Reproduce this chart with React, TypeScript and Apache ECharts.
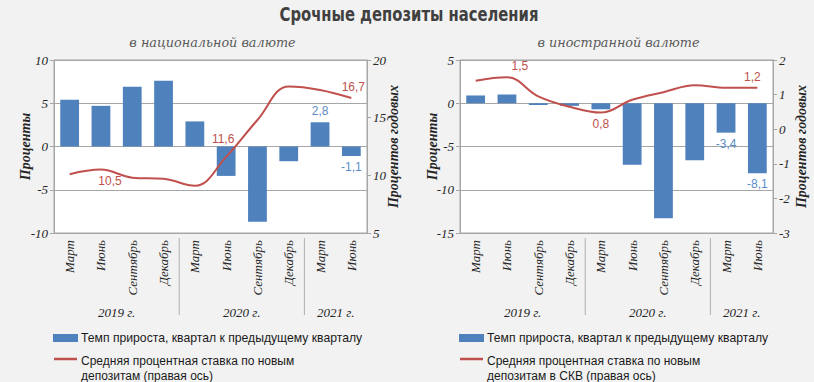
import React, { useEffect, useRef } from 'react';
import * as echarts from 'echarts';

const quarters = ['Март', 'Июнь', 'Сентябрь', 'Декабрь', 'Март', 'Июнь', 'Сентябрь', 'Декабрь', 'Март', 'Июнь'];
const years = ['2019 г.', '2020 г.', '2021 г.'];
const quartersPerYear = [4, 4, 2];

const natGrowth = [5.4, 4.7, 6.9, 7.6, 2.9, -3.4, -8.7, -1.7, 2.8, -1.1];
const natRate = [10.1, 10.5, 9.8, 9.7, 9.1, 11.6, 14.8, 17.7, 17.4, 16.7];
const natGrowthLabels = ['', '', '', '', '', '', '', '', '2,8', '-1,1'];
const natRateLabels = ['', '10,5', '', '', '', '11,6', '', '', '', '16,7'];

const fxGrowth = [0.9, 1.0, -0.2, -0.3, -0.7, -7.1, -13.3, -6.6, -3.4, -8.1];
const fxRate = [1.4, 1.5, 0.95, 0.65, 0.48, 0.85, 1.07, 1.27, 1.2, 1.2];
const fxGrowthLabels = ['', '', '', '', '', '', '', '', '-3,4', '-8,1'];
const fxRateLabels = ['', '1,5', '', '', '0,8', '', '', '', '', '1,2'];

const titleText = 'Срочные депозиты населения';
const subtitles = ['в национальной валюте', 'в иностранной валюте'];
const leftAxisName = 'Проценты';
const rightAxisName = 'Процентов годовых';
const barName = 'Темп прироста, квартал к предыдущему кварталу';
const lineNames = ['Средняя процентная ставка по новым\nдепозитам (правая ось)', 'Средняя процентная ставка по новым\nдепозитам в СКВ (правая ось)'];

// styling (not data)
const BAR = '#4f81bd';
const LINE = '#c0504d';
const BG = '#f2f2f2';
const GRIDC = '#a6a6a6';
const TXT = '#262626';
const SERIF = '"Liberation Serif", "DejaVu Serif", serif';
const SANS = '"Liberation Sans", Arial, sans-serif';

const linePlacement: Record<string, any> = {
  '10,5': { position: 'bottom', offset: [9, 0] },
  '11,6': { position: 'top', offset: [-3, -7] },
  '16,7': { position: 'top', offset: [2, 0] },
  '1,5': { position: 'top', offset: [13, 0] },
  '0,8': { position: 'bottom', offset: [0, 0] },
  '1,2': { position: 'top', offset: [-5, 0] },
};

const barData = (vals: number[], labels: string[]) =>
  vals.map((v, i) => ({
    value: v,
    label: {
      show: labels[i] !== '',
      formatter: labels[i],
      position: v >= 0 ? 'top' : 'bottom',
      color: '#5b8cc8',
      fontFamily: SANS,
      fontSize: 12,
    },
  }));

const lineData = (vals: number[], labels: string[]) =>
  vals.map((v, i) => ({
    value: v,
    label: {
      show: labels[i] !== '',
      formatter: labels[i],
      color: LINE,
      fontFamily: SANS,
      fontSize: 12,
      ...(linePlacement[labels[i]] || {}),
    },
  }));

const GRID_LEFTS = [54, 460];
const GRID_W = 313;

const yAxisBase = (gridIndex: number, position: string, min: number, max: number, interval: number, name: string, split: boolean, nameGap: number) => ({
  type: 'value',
  gridIndex,
  position,
  min,
  max,
  interval,
  name,
  nameLocation: 'middle',
  nameRotate: 90,
  nameGap,
  nameMoveOverlap: false,
  nameTextStyle: { fontFamily: SERIF, fontStyle: 'italic', fontWeight: 'bold', fontSize: 14, color: TXT },
  axisLine: { show: true, lineStyle: { color: GRIDC } },
  axisTick: { show: true, length: 4, lineStyle: { color: GRIDC } },
  axisLabel: {
    fontFamily: SERIF,
    fontStyle: 'italic',
    fontSize: 13,
    color: TXT,
    margin: 6,
    formatter: (v: number) => String(v).replace('.', ','),
  },
  splitLine: { show: split, lineStyle: { color: GRIDC, width: 1 } },
});

export default function App() {
  const ref = useRef<HTMLDivElement>(null);

  useEffect(() => {
    document.body.style.margin = '0';
    if (!ref.current) return;
    const chart = echarts.init(ref.current, null, { renderer: 'svg' });

    const option: any = {
      animation: false,
      backgroundColor: BG,
      title: subtitles.map((s, i) => ({
        text: s,
        left: GRID_LEFTS[i] + GRID_W / 2 - 3,
        textAlign: 'center',
        top: 31,
        textStyle: { fontFamily: '"DejaVu Serif", serif', fontStyle: 'italic', fontWeight: 'normal', fontSize: 12.8, color: '#595959' },
      })),
      grid: GRID_LEFTS.map((l) => ({
        left: l,
        top: 60,
        width: GRID_W,
        height: 173,
        show: true,
        backgroundColor: '#ffffff',
        borderColor: GRIDC,
        borderWidth: 1,
      })),
      xAxis: [0, 1].map((g) => ({
        type: 'category',
        gridIndex: g,
        data: quarters,
        position: 'bottom',
        axisLine: { show: true, onZero: false, lineStyle: { color: GRIDC } },
        axisTick: { show: false },
        axisLabel: {
          rotate: 90,
          interval: 0,
          margin: 7,
          fontFamily: SERIF,
          fontStyle: 'italic',
          fontSize: 13,
          color: TXT,
        },
      })),
      yAxis: [
        yAxisBase(0, 'left', -10, 10, 5, leftAxisName, true, 22),
        yAxisBase(0, 'right', 5, 20, 5, rightAxisName, false, 19),
        yAxisBase(1, 'left', -15, 5, 5, leftAxisName, true, 21),
        yAxisBase(1, 'right', -3, 2, 1, rightAxisName, false, 21),
      ],
      series: [
        { type: 'bar', name: barName, xAxisIndex: 0, yAxisIndex: 0, barWidth: '60%', itemStyle: { color: BAR }, data: barData(natGrowth, natGrowthLabels) },
        { type: 'line', name: lineNames[0], xAxisIndex: 0, yAxisIndex: 1, smooth: 0.4, showSymbol: true, symbol: 'circle', symbolSize: 0, lineStyle: { color: LINE, width: 2 }, itemStyle: { color: LINE }, data: lineData(natRate, natRateLabels) },
        { type: 'bar', name: barName, xAxisIndex: 1, yAxisIndex: 2, barWidth: '60%', itemStyle: { color: BAR }, data: barData(fxGrowth, fxGrowthLabels) },
        { type: 'line', name: lineNames[1], xAxisIndex: 1, yAxisIndex: 3, smooth: 0.4, showSymbol: true, symbol: 'circle', symbolSize: 0, lineStyle: { color: LINE, width: 2 }, itemStyle: { color: LINE }, data: lineData(fxRate, fxRateLabels) },
      ],
    };
    chart.setOption(option);

    // title, year group labels, separators and legends
    const graphic: any[] = [
      {
        type: 'text',
        x: 409,
        y: 14,
        scaleX: 0.74,
        style: {
          text: titleText,
          fill: '#404040',
          font: 'bold 20px "DejaVu Sans", "Liberation Sans", sans-serif',
          align: 'center',
          verticalAlign: 'middle',
        },
      },
    ];
    [0, 1].forEach((g) => {
      const yBottom = chart.convertToPixel({ yAxisIndex: g * 2 }, g === 0 ? -10 : -15) as number;
      const cx = (i: number) => chart.convertToPixel({ xAxisIndex: g }, i) as number;
      const step = cx(1) - cx(0);
      let start = 0;
      quartersPerYear.forEach((n, k) => {
        const left = cx(start) - step / 2;
        const right = cx(start + n - 1) + step / 2;
        graphic.push({
          type: 'text',
          x: (left + right) / 2,
          y: yBottom + 79,
          style: { text: years[k], fill: TXT, font: `italic 13px ${SERIF}`, align: 'center', verticalAlign: 'middle' },
        });
        if (k > 0) {
          graphic.push({
            type: 'line',
            shape: { x1: left, y1: yBottom + 5, x2: left, y2: yBottom + 82 },
            style: { stroke: '#b0b0b0', lineWidth: 1 },
          });
        }
        start += n;
      });
      const lx = GRID_LEFTS[g] - 1;
      graphic.push({ type: 'rect', shape: { x: lx, y: 334, width: 25, height: 8 }, style: { fill: BAR } });
      graphic.push({
        type: 'text',
        x: lx + 28,
        y: 338,
        style: { text: barName, fill: '#1a1a1a', font: `12.2px ${SANS}`, verticalAlign: 'middle' },
      });
      graphic.push({ type: 'line', shape: { x1: lx + 1, y1: 359, x2: lx + 24, y2: 359 }, style: { stroke: LINE, lineWidth: 2.5 } });
      graphic.push({
        type: 'text',
        x: lx + 28,
        y: 353,
        style: { text: lineNames[g], fill: '#1a1a1a', font: `12px ${SANS}`, lineHeight: 15, verticalAlign: 'top' },
      });
    });
    chart.setOption({ graphic });

    return () => chart.dispose();
  }, []);

  return <div ref={ref} style={{ width: 814, height: 382 }} />;
}
